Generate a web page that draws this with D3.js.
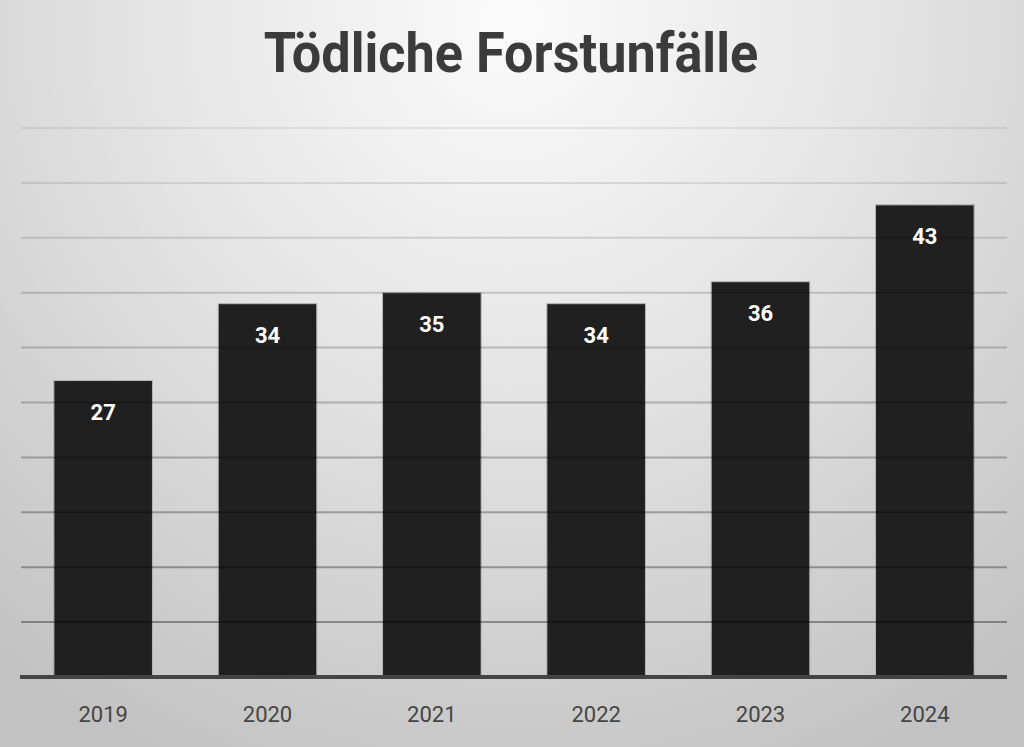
<!DOCTYPE html>
<meta charset="utf-8">
<style>
body{
  margin:0;
  overflow:hidden;
}
.title{
  font-family:"Roboto", "Liberation Sans", sans-serif;
  font-weight:bold;
  fill:#3b3b3b;
  text-anchor:middle;
}
.val{
  font-family:"Roboto", "Liberation Sans", sans-serif;
  font-weight:bold;
  fill:#fff;
  text-anchor:middle;
}
.yr{
  font-family:"Roboto", "Liberation Sans", sans-serif;
  fill:#454545;
  text-anchor:middle;
}
</style>
<body>
<script src="https://cdn.jsdelivr.net/npm/d3@7"></script>
<script>
var years = ['2019','2020','2021','2022','2023','2024'];
var deaths = [27, 34, 35, 34, 36, 43];
var gridTicks = [5, 10, 15, 20, 25, 30, 35, 40, 45, 50];

var W = 1024, H = 747;
var svg = d3.select('body').append('svg').attr('width', W).attr('height', H);

var defs = svg.append('defs');
var bg = defs.append('radialGradient').attr('id','bg')
  .attr('gradientUnits','userSpaceOnUse')
  .attr('cx', 512).attr('cy', 20).attr('r', 820);
bg.append('stop').attr('offset','0%').attr('stop-color','#fbfbfb');
bg.append('stop').attr('offset','45%').attr('stop-color','#e4e4e4');
bg.append('stop').attr('offset','100%').attr('stop-color','#c2c2c2');

svg.append('rect').attr('width', W).attr('height', H).attr('fill','url(#bg)');

var x = d3.scaleBand().domain(years).range([21, 1007]).paddingInner(0.4).paddingOuter(0.2);
var y = d3.scaleLinear().domain([0, 50]).range([677, 128]);
var lineShade = d3.scaleLinear().domain([50, 5]).range([0.07, 0.35]);

// title, slightly condensed
svg.append('text').attr('class','title')
  .attr('transform','translate(511,72) scale(0.95,1)')
  .style('font-size','55px')
  .text('Tödliche Forstunfälle');

// bars
svg.append('g').selectAll('rect').data(deaths).enter().append('rect')
  .attr('x', function(d,i){ return x(years[i]); })
  .attr('y', function(d){ return y(d); })
  .attr('width', x.bandwidth())
  .attr('height', function(d){ return y(0) - y(d); })
  .attr('fill','#202020')
  .attr('stroke','#b5b5b5')
  .attr('stroke-width',1);

// gridlines drawn on top, translucent
svg.append('g').selectAll('line').data(gridTicks).enter().append('line')
  .attr('x1', 21).attr('x2', 1007)
  .attr('y1', function(d){ return y(d); }).attr('y2', function(d){ return y(d); })
  .attr('stroke','#000')
  .attr('stroke-opacity', function(d){ return lineShade(d); })
  .attr('stroke-width', 2);

// baseline
svg.append('line').attr('x1', 20).attr('x2', 1007)
  .attr('y1', y(0)).attr('y2', y(0))
  .attr('stroke','#444').attr('stroke-width', 4);

// value labels
svg.append('g').selectAll('text').data(deaths).enter().append('text').attr('class','val')
  .attr('x', function(d,i){ return x(years[i]) + x.bandwidth()/2; })
  .attr('y', function(d){ return y(d) + 39; })
  .style('font-size','22px')
  .text(function(d){ return d; });

// year labels
svg.append('g').selectAll('text').data(years).enter().append('text').attr('class','yr')
  .attr('x', function(d){ return x(d) + x.bandwidth()/2; })
  .attr('y', 722)
  .style('font-size','22px')
  .text(function(d){ return d; });
</script>
</body>
